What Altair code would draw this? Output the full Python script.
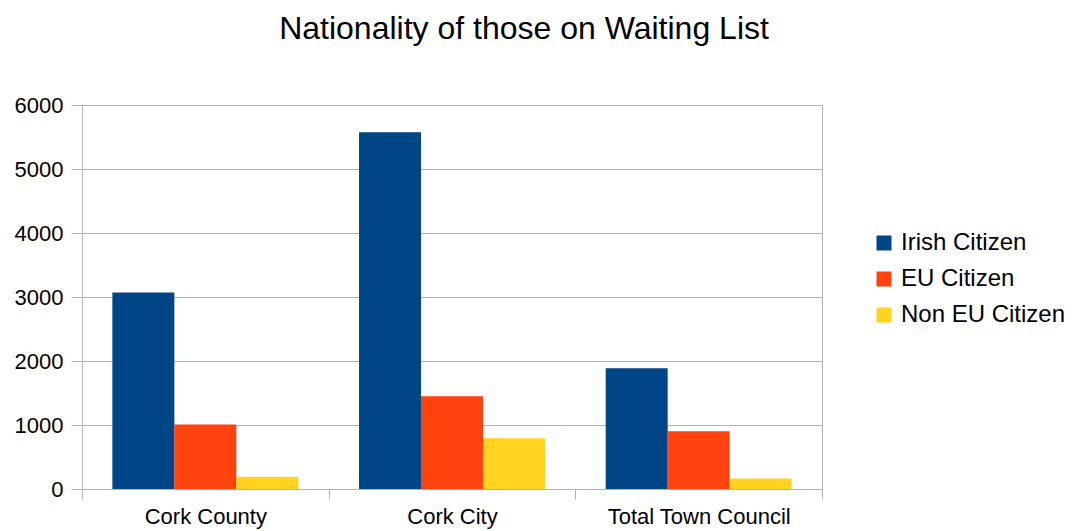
import altair as alt
import pandas as pd

categories = ["Cork County", "Cork City", "Total Town Council"]
series = ["Irish Citizen", "EU Citizen", "Non EU Citizen"]
irish = [3072, 5576, 1887]
eu = [1006, 1449, 901]
non_eu = [192, 792, 166]
colors = ["#004586", "#ff420e", "#ffd320"]

rows = []
for i, c in enumerate(categories):
    for s, vals in zip(series, [irish, eu, non_eu]):
        rows.append({"Area": c, "Nationality": s, "Count": vals[i]})
df = pd.DataFrame(rows)

FONT = "Liberation Sans"

chart = alt.Chart(df).mark_bar().encode(
    x=alt.X("Area:N", sort=categories, title=None,
            scale=alt.Scale(paddingInner=0, paddingOuter=0),
            axis=alt.Axis(labelAngle=0, labelFontSize=22, labelColor="#000000",
                          labelFont=FONT, tickBand="extent", tickSize=10,
                          tickColor="#b3b3b3", domainColor="#b3b3b3",
                          labelPadding=7, labelLimit=400, grid=False)),
    xOffset=alt.XOffset("Nationality:N", sort=series,
                        scale=alt.Scale(paddingInner=0, paddingOuter=0.49)),
    y=alt.Y("Count:Q", title=None,
            scale=alt.Scale(domain=[0, 6000], nice=False),
            axis=alt.Axis(values=[0, 1000, 2000, 3000, 4000, 5000, 6000], format="d",
                          labelFontSize=22, labelColor="#000000", labelFont=FONT,
                          tickSize=11, tickColor="#b3b3b3", domainColor="#b3b3b3",
                          gridColor="#b3b3b3", labelPadding=8)),
    color=alt.Color("Nationality:N", sort=series,
                    scale=alt.Scale(domain=series, range=colors),
                    legend=alt.Legend(title=None, orient="none", legendX=790, legendY=126,
                                      symbolType="square", symbolSize=225,
                                      symbolStrokeWidth=0, labelFontSize=24,
                                      labelFont=FONT, labelColor="#000000",
                                      rowPadding=12, labelOffset=5, labelLimit=400)),
).properties(
    width=740,
    height=384,
    title=alt.TitleParams("Nationality of those on Waiting List", fontSize=32,
                          font=FONT, fontWeight="normal", color="#000000",
                          anchor="middle", dx=72, offset=48),
    autosize=alt.AutoSizeParams(type="none"),
    padding={"left": 74, "top": 97, "right": 243, "bottom": 42},
).configure_view(stroke="#b3b3b3")

chart.save("out.html", embed_options={"renderer": "svg", "actions": False})
